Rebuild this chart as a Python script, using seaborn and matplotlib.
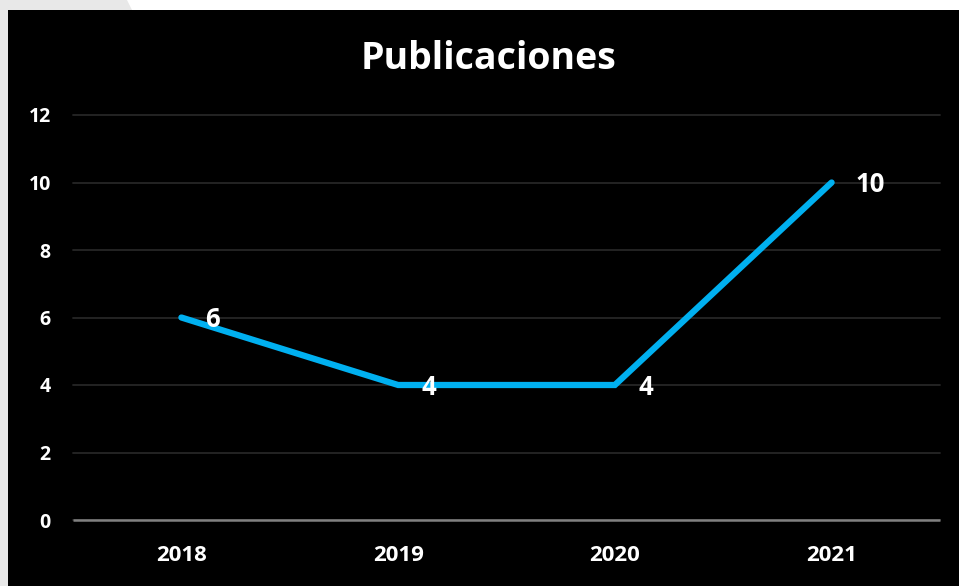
#!/usr/bin/env python3
"""
Line chart of yearly publications on a black slide-style background.
"""

import matplotlib.pyplot as plt
import pandas as pd
import seaborn as sns
from matplotlib.patches import Rectangle, Polygon

years = ["2018", "2019", "2020", "2021"]
publicaciones = [6, 4, 4, 10]
y_ticks = [0, 2, 4, 6, 8, 10, 12]

LINE_COLOR = "#00b0f0"


def main() -> None:
    df = pd.DataFrame({"year": years, "value": publicaciones})

    sns.set_theme(style="dark")
    plt.rcParams["font.family"] = ["Open Sans", "DejaVu Sans"]
    plt.rcParams["font.weight"] = "bold"

    fig = plt.figure(figsize=(9.59, 5.86), dpi=100)
    fig.patch.set_facecolor("#e8e8e8")
    # white slide shape at the top, then the black chart panel
    fig.patches.append(
        Polygon([(127 / 959, 1), (1, 1), (1, 0.98), (133 / 959, 0.98)],
                closed=True, transform=fig.transFigure, facecolor="white",
                edgecolor="none", zorder=-2)
    )
    fig.patches.append(
        Rectangle((8 / 959, 0), 951 / 959, 576 / 586, transform=fig.transFigure,
                  facecolor="black", edgecolor="none", zorder=-1)
    )

    ax = fig.add_axes([73 / 959, 66 / 586, 867 / 959, 405 / 586])
    ax.set_facecolor("black")

    sns.lineplot(
        ax=ax,
        data=df,
        x="year",
        y="value",
        color=LINE_COLOR,
        linewidth=4.5,
        solid_capstyle="round",
        solid_joinstyle="miter",
        zorder=3,
    )

    for i, v in enumerate(publicaciones):
        ax.annotate(
            str(v),
            (i, v),
            xytext=(17, -1.5),
            textcoords="offset points",
            ha="left",
            va="center",
            color="white",
            fontsize=18.5,
            fontweight="bold",
            zorder=4,
        )

    ax.set_xlim(-0.5, len(years) - 0.5)
    ax.set_ylim(0, 12)
    ax.set_yticks(y_ticks)
    ax.grid(axis="y", color="#262626", linewidth=1.3)
    ax.grid(axis="x", visible=False)
    for gl in ax.get_ygridlines():
        gl.set_clip_on(False)
    ax.axhline(0, color="#808080", linewidth=1.8, zorder=2, clip_on=False,
               solid_capstyle="butt")
    for side in ("top", "right", "left", "bottom"):
        ax.spines[side].set_visible(False)

    ax.tick_params(axis="y", length=0, pad=16, labelcolor="white", labelsize=14)
    ax.tick_params(axis="x", length=0, pad=18, labelcolor="white", labelsize=16)
    ax.set_xlabel("")
    ax.set_ylabel("")

    fig.text(0.509, 0.899, "Publicaciones", ha="center", va="center",
             color="white", fontsize=27, fontweight="bold")

    fig.savefig("out.png", dpi=100, facecolor=fig.get_facecolor())


if __name__ == "__main__":
    main()
